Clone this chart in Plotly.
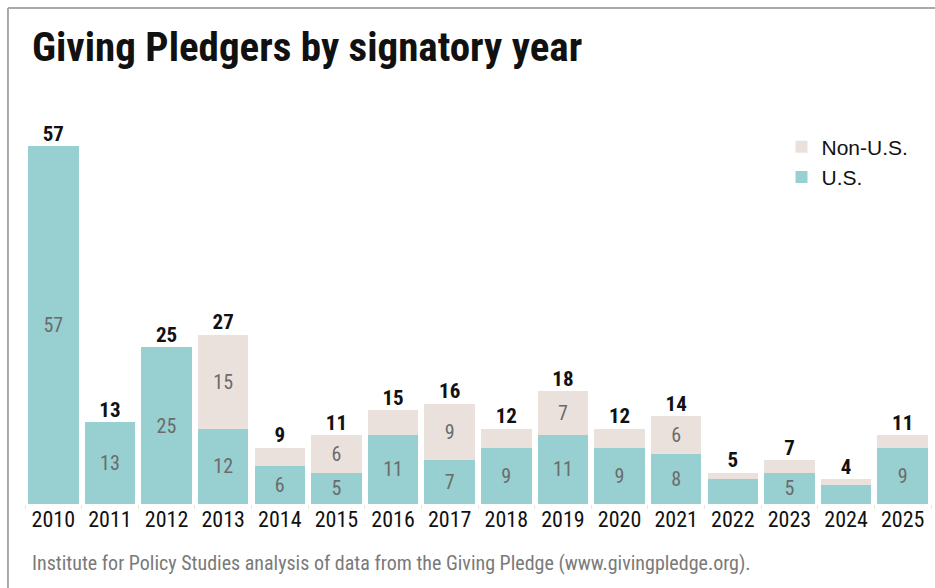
import plotly.graph_objects as go

years = [str(y) for y in range(2010, 2026)]
us = [57, 13, 25, 12, 6, 5, 11, 7, 9, 11, 9, 8, 4, 5, 3, 9]
non_us = [0, 0, 0, 15, 3, 6, 4, 9, 3, 7, 3, 6, 1, 2, 1, 2]
totals = [u + n for u, n in zip(us, non_us)]

US_COLOR = "#98CFD1"
NON_COLOR = "#EAE1DD"
NARROW = "Liberation Sans Narrow, Arial Narrow, Roboto Condensed, Liberation Sans, sans-serif"

def inner_labels(vals):
    return [str(v) if v >= 5 else "" for v in vals]

fig = go.Figure()
fig.add_trace(go.Bar(
    x=years, y=us, name="U.S.", marker=dict(color=US_COLOR, line=dict(width=0)),
    text=inner_labels(us), textposition="inside", insidetextanchor="middle",
    textfont=dict(family=NARROW, size=20, color="#6b6b6b"), hoverinfo="x+y",
))
fig.add_trace(go.Bar(
    x=years, y=non_us, name="Non-U.S.", marker=dict(color=NON_COLOR, line=dict(width=0)),
    text=inner_labels(non_us), textposition="inside", insidetextanchor="middle",
    textfont=dict(family=NARROW, size=20, color="#6b6b6b"), hoverinfo="x+y",
))
fig.add_trace(go.Scatter(
    x=years, y=totals, mode="text", text=[str(t) for t in totals],
    texttemplate="<b>%{text}</b>",
    textposition="top center", showlegend=False, cliponaxis=False,
    textfont=dict(family=NARROW, size=21, color="#111111"), hoverinfo="skip",
))

fig.update_layout(
    width=935, height=588,
    margin=dict(l=25, r=4, t=115, b=84),
    barmode="stack", bargap=0.11,
    plot_bgcolor="white", paper_bgcolor="white",
    showlegend=True,
    legend=dict(x=0.835, y=0.97, xanchor="left", yanchor="top",
                traceorder="reversed", font=dict(family="Liberation Sans, Arial, sans-serif", size=21, color="#111"),
                bgcolor="rgba(0,0,0,0)", itemwidth=30, tracegroupgap=0),
    xaxis=dict(type="category", range=[-0.5, 15.5], showgrid=False, showline=False, zeroline=False,
               ticks="outside", tickson="boundaries", ticklen=4, tickcolor="#e6e6e6",
               tickfont=dict(family=NARROW, size=22, color="#111")),
    yaxis=dict(range=[0, 62], visible=False, showgrid=False, zeroline=False),
    shapes=[
        dict(type="line", xref="paper", yref="paper", x0=-0.0188, x1=1.01, y0=1.275, y1=1.275,
             line=dict(color="#a9a9a9", width=2)),
        dict(type="line", xref="paper", yref="paper", x0=-0.0188, x1=-0.0188, y0=1.275, y1=-0.3,
             line=dict(color="#a9a9a9", width=2)),
    ],
    annotations=[
        dict(text="<b>Giving Pledgers by signatory year</b>", xref="paper", yref="paper",
             x=0.0055, y=1.175, xanchor="left", yanchor="middle", showarrow=False,
             font=dict(family=NARROW, size=41, color="#111")),
        dict(text="Institute for Policy Studies analysis of data from the Giving Pledge (www.givingpledge.org).",
             xref="paper", yref="paper", x=0.0055, y=-0.152, xanchor="left", yanchor="middle",
             showarrow=False, font=dict(family=NARROW, size=20, color="#7a7a7a")),
    ],
)

fig.write_html("out.html")
